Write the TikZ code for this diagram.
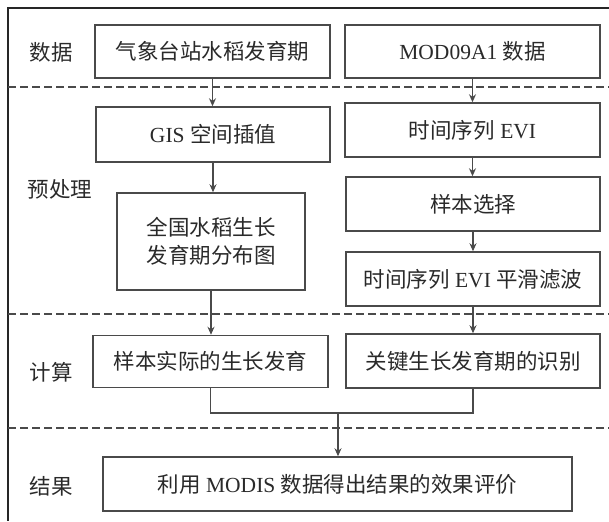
\documentclass[tikz,border=0pt]{standalone}
\usepackage{fontspec}
\setmainfont{Liberation Serif}
\newfontfamily\cjk{Noto Sans CJK SC}
\usetikzlibrary{arrows.meta}
\definecolor{ln}{HTML}{4A4A4A}
\definecolor{tx}{HTML}{2A2A2A}
\tikzset{
  box/.style={draw=ln, line width=1.5pt, fill=white, inner sep=0pt, text=tx,
    font=\fontsize{21.5}{28}\selectfont, align=center},
  lbl/.style={text=tx, font=\cjk\fontsize{21.5}{24}\selectfont, inner sep=0pt},
  conn/.style={draw=ln, line width=1.3pt},
  arr/.style={conn, -{Stealth[length=8pt,width=7pt]}},
  sep/.style={draw=ln, line width=1.3pt, dash pattern=on 8pt off 4pt},
  frame/.style={draw=black!85, line width=1.5pt}
}
\newcommand{\cj}[1]{{\cjk #1}}
\begin{document}
\begin{tikzpicture}[x=1pt,y=-1pt]
\useasboundingbox (0,0) rectangle (609,521);
% frame
\coordinate (ftr) at (609,8);
\coordinate (ftl) at (8,8);
\coordinate (fbl) at (8,521);
\draw[frame] (ftr) -- (ftl) -- (fbl);
% separators
\coordinate (s1a) at (8,87);  \coordinate (s1b) at (609,87);
\coordinate (s2a) at (8,314); \coordinate (s2b) at (609,314);
\coordinate (s3a) at (8,428); \coordinate (s3b) at (609,428);
\draw[sep] (s1a) -- (s1b);
\draw[sep] (s2a) -- (s2b);
\draw[sep] (s3a) -- (s3b);
% stage labels
\node[lbl] (L1) at (51,52) {数据};
\node[lbl] (L2) at (60,189) {预处理};
\node[lbl] (L3) at (51,372) {计算};
\node[lbl] (L4) at (51,486) {结果};
% boxes
\node[box, minimum width=235pt, minimum height=53pt] (d1) at (212.5,51.5) {\cj{气象台站水稻发育期}};
\node[box, minimum width=255pt, minimum height=53pt] (d2) at (472.5,51.5) {MOD09A1 \cj{数据}};
\node[box, minimum width=234pt, minimum height=55pt] (p1) at (213,134.5) {GIS \cj{空间插值}};
\node[box, minimum width=188pt, minimum height=97pt] (p2) at (211,241.5) {\cj{全国水稻生长}\\\cj{发育期分布图}};
\node[box, minimum width=255pt, minimum height=54pt] (p3) at (472.5,130) {\cj{时间序列} EVI};
\node[box, minimum width=254pt, minimum height=54pt] (p4) at (473,204) {\cj{样本选择}};
\node[box, minimum width=254pt, minimum height=54pt] (p5) at (473,279) {\cj{时间序列} EVI \cj{平滑滤波}};
\node[box, minimum width=235pt, minimum height=52pt] (c1) at (210.5,361.5) {\cj{样本实际的生长发育}};
\node[box, minimum width=254pt, minimum height=54pt] (c2) at (473,361) {\cj{关键生长发育期的识别}};
\node[box, minimum width=469pt, minimum height=54pt] (r1) at (337.5,484) {\cj{利用} MODIS \cj{数据得出结果的效果评价}};
% arrows
\draw[arr] (d1.south) -- (d1.south |- p1.north);
\draw[arr] (p1.south) -- (p1.south |- p2.north);
\draw[arr] (p2.south) -- (p2.south |- c1.north);
\draw[arr] (d2.south) -- (d2.south |- p3.north);
\draw[arr] (p3.south) -- (p3.south |- p4.north);
\draw[arr] (p4.south) -- (p4.south |- p5.north);
\draw[arr] (p5.south) -- (p5.south |- c2.north);
\coordinate (j) at (338,413);
\draw[conn] (c1.south) |- (j) -| (c2.south);
\draw[arr] (j) -- (j |- r1.north);
\end{tikzpicture}
\end{document}
